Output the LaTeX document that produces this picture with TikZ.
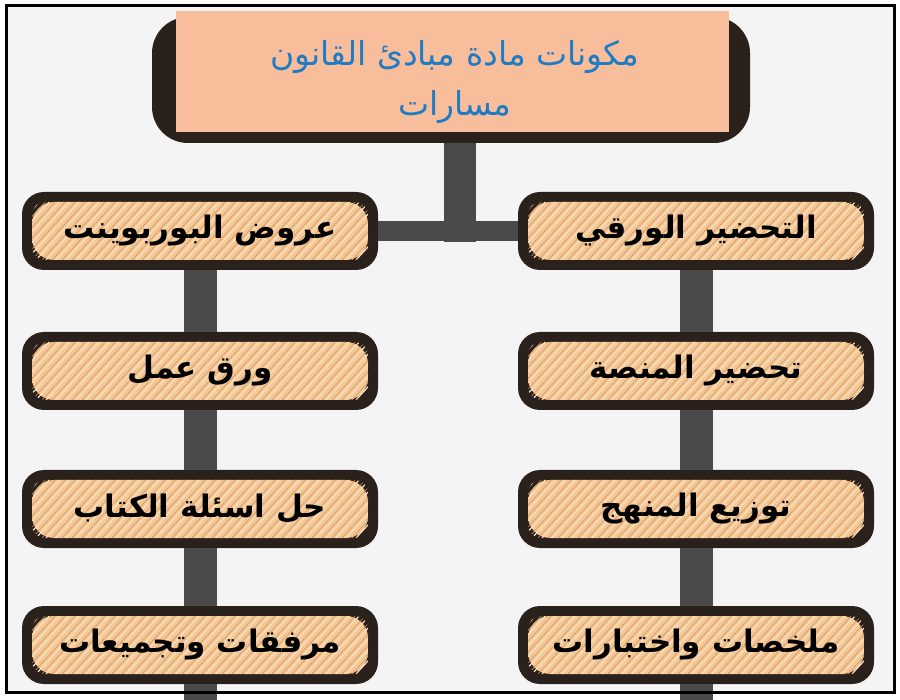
\documentclass[tikz,border=0pt]{standalone}
\usepackage{fontspec}
\usetikzlibrary{calc}
\newfontfamily\arabicfont[Script=Arabic]{DejaVu Sans}
\newfontfamily\arabicbold[Script=Arabic]{DejaVu Sans Bold}
\TeXXeTstate=1
\definecolor{pagebg}{HTML}{F4F4F4}
\definecolor{darkrim}{HTML}{2A211D}
\definecolor{woodbase}{HTML}{F4C896}
\definecolor{grainA}{HTML}{D5935C}
\definecolor{grainB}{HTML}{FBE1C0}
\definecolor{salmon}{HTML}{F8BE9C}
\definecolor{titleblue}{HTML}{1F7BC4}
\definecolor{conngray}{HTML}{4A4A4A}
\tikzset{
  woodbox/.style={
    minimum width=356pt, minimum height=78pt, inner sep=0pt,
    rounded corners=22pt, fill=darkrim,
    font=\arabicbold\fontsize{31}{36}\selectfont, text=black,
    path picture={
      \coordinate (pa) at ($(path picture bounding box.south west)+(10pt,10pt)$);
      \coordinate (pb) at ($(path picture bounding box.north east)+(-10pt,-10pt)$);
      \begin{scope}
        \clip[rounded corners=13pt] (pa) rectangle (pb);
        \fill[woodbase] (pa) rectangle (pb);
        \foreach \k in {-10,...,40} {
          \draw[grainA, line width=0.6pt, sharp corners] ($(pa)+(\k*10pt,0pt)$) -- ++(55pt,60pt);
          \draw[grainB, line width=1.2pt, sharp corners] ($(pa)+(\k*10pt+4pt,0pt)$) -- ++(55pt,60pt);
        }
      \end{scope}
    }
  },
  vconn/.style={draw=conngray, line width=33pt, line cap=butt},
  hconn/.style={draw=conngray, line width=20pt, line cap=butt},
  stemconn/.style={draw=conngray, line width=32pt, line cap=butt}
}
\begin{document}
\begin{tikzpicture}[x=1pt,y=-1pt]
\useasboundingbox (0,0) rectangle (900,700);
\fill[white] (0,0) rectangle (900,700);
\fill[pagebg] (6,6) rectangle (894,692);

% title
\node[fill=darkrim, rounded corners=36pt, minimum width=598pt, minimum height=126pt, inner sep=0pt] (tback) at (451,80) {};
\fill[salmon] (176,11) rectangle (729,132);
\node[inner sep=0pt, align=center,
      font=\arabicfont\fontsize{33}{50}\selectfont, text=titleblue] (title) at (455,82)
  {\beginR مكونات مادة مبادئ القانون\endR\\\beginR مسارات\endR};

% boxes
\node[woodbox] (L1) at (200,231) {\beginR عروض البوربوينت\endR};
\node[woodbox] (R1) at (696,231) {\beginR التحضير الورقي\endR};
\node[woodbox] (L2) at (200,371) {\beginR ورق عمل\endR};
\node[woodbox] (R2) at (696,371) {\beginR تحضير المنصة\endR};
\node[woodbox] (L3) at (200,509) {\beginR حل اسئلة الكتاب\endR};
\node[woodbox] (R3) at (696,509) {\beginR توزيع المنهج\endR};
\node[woodbox] (L4) at (200,645) {\beginR مرفقات وتجميعات\endR};
\node[woodbox] (R4) at (696,645) {\beginR ملخصات واختبارات\endR};

% connectors
\coordinate (j) at (460,242);
\coordinate (Lend) at (200,700);
\coordinate (Rend) at (696,700);
\draw[stemconn] (j |- tback.south) -- (j);
\draw[hconn] (L1.east) -- (R1.west);
\draw[vconn] (L1.south) -- (L2.north);
\draw[vconn] (L2.south) -- (L3.north);
\draw[vconn] (L3.south) -- (L4.north);
\draw[vconn] (L4.south) -- (Lend);
\draw[vconn] (R1.south) -- (R2.north);
\draw[vconn] (R2.south) -- (R3.north);
\draw[vconn] (R3.south) -- (R4.north);
\draw[vconn] (R4.south) -- (Rend);

% frame
\draw[black, line width=3pt] (6,6) rectangle (894,692);
\end{tikzpicture}
\end{document}
